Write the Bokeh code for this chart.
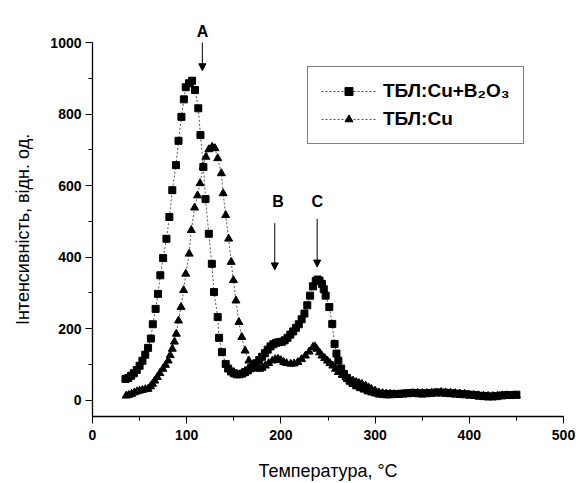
import math
from bokeh.plotting import figure
from bokeh.models import (Range1d, SingleIntervalTicker, Legend, LegendItem,
                          Label, Arrow, NormalHead)
from bokeh.embed import file_html
from bokeh.resources import INLINE

# ---- data: ТБЛ:Cu+B2O3 (squares) ----
sq_x = [35, 38, 41, 44, 47, 50, 53, 56, 59, 62, 64, 67, 69.5, 72, 75, 78.5, 81.6, 84.7,
        88.6, 91.3, 94.4, 97, 99, 102.5, 105.7, 108.8, 112.3, 114.6, 117.7, 120, 123.5,
        126.7, 129, 132.9, 134.4, 137.5, 141.4, 144, 147, 150, 153, 156, 159, 162, 165,
        168, 171, 174, 177, 180, 183, 186, 189, 192, 195, 198, 201, 204, 207, 210, 213,
        216, 219, 222, 225, 228, 231, 234, 237, 239, 241, 243.5, 245.5, 247.5, 251.4,
        254.5, 257, 259, 261, 264, 267, 270, 273, 276, 280, 284, 288, 292, 296, 300,
        304, 308, 312, 316, 320, 325, 330, 335, 340, 345, 350, 355, 360, 365, 370, 375,
        380, 385, 390, 395, 400, 405, 410, 415, 420, 425, 430, 435, 440, 445, 450]
sq_y = [59, 62, 68, 75, 84, 96, 110, 127, 146, 172, 212, 255, 297, 349, 397, 451, 512, 587,
        657, 725, 792, 841, 875, 886, 893, 867, 816, 741, 652, 562, 465,
        381, 302, 232, 174, 134, 101, 88, 80, 75, 72, 72, 74, 78, 83,
        89, 95, 103, 112, 121, 131, 141, 150, 156, 160, 162, 163, 167, 174, 183, 192,
        202, 212, 226, 242, 265, 292, 318, 333, 337, 334, 325, 310, 292, 260,
        213, 157, 130, 110, 88, 73, 62, 54, 48, 41, 36, 32, 27, 24, 21,
        18, 17, 16, 16, 17, 17, 18, 19, 20, 19, 18, 19, 20, 21, 21, 20,
        19, 18, 17, 16, 15, 14, 12, 11, 10, 10, 11, 13, 14, 14, 15]

# ---- data: ТБЛ:Cu (triangles) ----
tr_x = [35.7, 38.5, 41.6, 44.5, 47.4, 50, 53, 56, 59, 61.5, 63.7, 66, 68.8, 71.5, 74.6,
        77.5, 80.4, 82.5, 84.7, 87, 89, 91.3, 94, 96.7, 99, 102.6, 104.9, 108.4, 111.5,
        114.2, 117.3, 120.4, 123.5, 127, 130, 132.9, 136.8, 138.7, 141.4, 144.5, 147.2,
        149.6, 152.3, 155.4, 158.5, 162, 166, 169, 172, 175, 177.5, 180, 183.4, 187, 191,
        194, 197, 200, 203, 206, 210.5, 214, 218, 222, 226, 230, 234, 236, 238, 241,
        243.5, 246.5, 249.4, 252, 255, 258, 261, 265, 269, 273, 276.6, 280, 283, 286,
        290, 293, 296, 300, 304, 308, 312, 316, 320, 325, 330, 335, 340, 345, 350, 355,
        360, 365, 370, 375, 380, 385, 390, 395, 400, 405, 410, 415, 420, 425, 430, 435,
        440, 445, 450]
tr_y = [12, 14, 17, 21, 24, 26, 28, 30, 31, 38, 45, 54, 64, 75, 87,
        98, 110, 125, 143, 163, 185, 222, 260, 307, 353, 409, 475, 538, 572,
        606, 652, 680, 701, 708, 704, 676, 634, 578, 517, 451, 386,
        335, 278, 218, 176, 138, 110, 99, 92, 88, 87, 90, 96, 103, 110,
        114, 115, 111, 106, 103, 101, 102, 106, 114, 124, 135, 148, 150, 143, 133,
        124, 117, 110, 103, 96, 87, 78, 70, 64, 58, 54, 50, 47, 45,
        40, 35, 31, 26, 21, 19, 18, 17, 16, 16, 17, 18, 19, 20, 19, 19,
        20, 21, 22, 21, 20, 19, 18, 17, 15, 14, 13, 12, 11, 11, 12, 13,
        13, 12, 12]

series_labels = ["ТБЛ:Cu+B₂O₃", "ТБЛ:Cu"]

# ---- peak annotations ("A" sits above the plot area and is drawn as the title) ----
peak_names = ["A", "B", "C"]
peak_x = [116.6, 193.5, 238.5]
peak_label_x = [116.6, 197, 238.5]
peak_label_y = [1050, 554, 554]
arrow_y_start = [1016, 495, 507]
arrow_y_end = [921, 364, 372]

x_ticks_interval = 100
y_ticks_interval = 200

FONT = "Liberation Sans"
X0, X1 = 0, 500
Y0, Y1 = -46, 1000
LEFT, WIDTH_PX = 92, 471

p = figure(width=576, height=483, output_backend="svg", toolbar_location=None,
           x_range=Range1d(X0, X1), y_range=Range1d(Y0, Y1),
           min_border_left=LEFT, min_border_right=13, min_border_top=42,
           min_border_bottom=67)
p.outline_line_color = None
p.xgrid.visible = False
p.ygrid.visible = False
p.background_fill_color = "white"
p.border_fill_color = "white"

# title used as the off-frame peak label "A"
p.title.text = peak_names[0]
p.title.align = "left"
p.title.offset = (peak_label_x[0] - X0) / (X1 - X0) * WIDTH_PX - 5.5
p.title.text_font = FONT
p.title.text_font_style = "bold"
p.title.text_font_size = "16px"
p.title.text_color = "black"
p.title.standoff = 5

p.xaxis.ticker = SingleIntervalTicker(interval=x_ticks_interval, num_minor_ticks=2)
p.yaxis.ticker = SingleIntervalTicker(interval=y_ticks_interval, num_minor_ticks=2)
for ax in (p.xaxis, p.yaxis):
    ax.axis_line_color = "black"
    ax.axis_line_width = 1.3
    ax.major_tick_line_color = "black"
    ax.minor_tick_line_color = "black"
    ax.major_tick_out = 7
    ax.major_tick_in = 0
    ax.minor_tick_out = 4
    ax.minor_tick_in = 0
    ax.major_label_text_font = FONT
    ax.major_label_text_font_style = "bold"
    ax.major_label_text_font_size = "14px"
    ax.major_label_text_color = "black"
    ax.axis_label_text_font = FONT
    ax.axis_label_text_font_style = "normal"
    ax.axis_label_text_font_size = "18px"
    ax.axis_label_text_color = "black"
p.xaxis.major_label_standoff = 6
p.yaxis.major_label_standoff = 4
p.xaxis.axis_label = "Температура, °C"
p.yaxis.axis_label = "Інтенсивність, відн. од."
p.xaxis.axis_label_standoff = 18
p.yaxis.axis_label_standoff = 14

l1 = p.line(sq_x, sq_y, line_color="#555555", line_width=1, line_dash="2 2")
m1 = p.scatter(sq_x, sq_y, marker="square", size=7, fill_color="black", line_color="black")
l2 = p.line(tr_x, tr_y, line_color="#555555", line_width=1, line_dash="2 2")
m2 = p.scatter(tr_x, tr_y, marker="triangle", size=8, fill_color="black", line_color="black")

legend = Legend(items=[LegendItem(label=series_labels[0], renderers=[l1, m1]),
                       LegendItem(label=series_labels[1], renderers=[l2, m2])],
                location=(215, 272), orientation="vertical",
                border_line_color="black", border_line_width=1,
                background_fill_alpha=1.0,
                label_text_font=FONT, label_text_font_style="bold",
                label_text_font_size="19px", label_text_color="black",
                glyph_width=55, glyph_height=20, label_height=20,
                label_standoff=7, spacing=6, padding=13, margin=0)
p.add_layout(legend, "center")

for i in range(len(peak_names)):
    p.add_layout(Arrow(end=NormalHead(size=7, fill_color="black", line_color="black"),
                       x_start=peak_x[i], y_start=arrow_y_start[i],
                       x_end=peak_x[i], y_end=arrow_y_end[i],
                       line_color="black", line_width=1))
    if i > 0:
        p.add_layout(Label(x=peak_label_x[i], y=peak_label_y[i], text=peak_names[i],
                           text_align="center", text_baseline="middle",
                           text_font=FONT, text_font_style="bold",
                           text_font_size="16px", text_color="black"))

open("out.html", "w").write(file_html(p, INLINE))
